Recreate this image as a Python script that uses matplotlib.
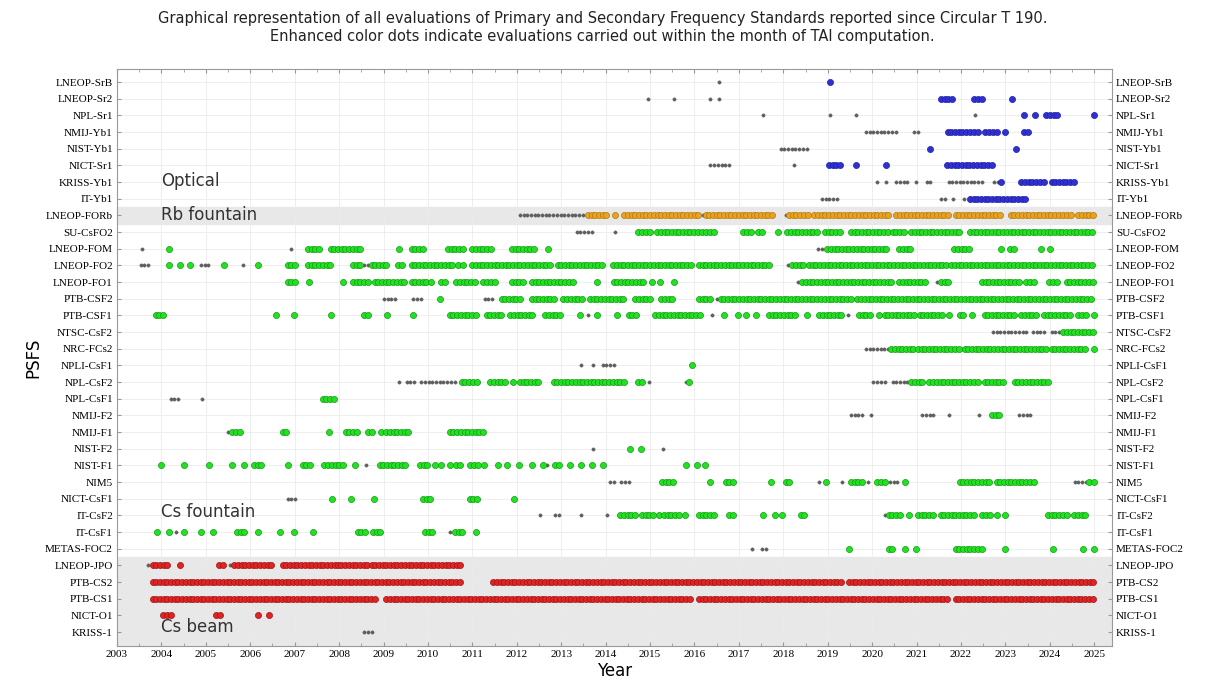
import matplotlib
matplotlib.use("Agg")
import matplotlib.pyplot as plt
from matplotlib.ticker import MultipleLocator
import numpy as np

# runs of monthly evaluations: (start, end) in decimal year, a single value is one month
optical_labels = ["LNEOP-SrB", "LNEOP-Sr2", "NPL-Sr1", "NMIJ-Yb1", "NIST-Yb1",
                  "NICT-Sr1", "KRISS-Yb1", "IT-Yb1"]
optical_enh = [
    [2019.05],
    [(2021.55, 2021.8), (2022.3, 2022.47), 2023.15],
    [(2023.42, 2023.5), 2023.67, (2023.92, 2024.17), 2025.0],
    [(2021.7, 2022.2), (2022.3, 2022.4), (2022.55, 2022.85), 2023.0, (2023.42, 2023.55)],
    [2021.31, 2023.25],
    [(2019.03, 2019.3), 2019.64, 2020.31, (2021.69, 2022.77)],
    [2022.91, (2023.36, 2023.89), (2024.04, 2024.55)],
    [(2022.2, 2023.53)],
]
optical_gray = [
    [2016.55],
    [2014.96, 2015.55, 2016.36, 2016.55],
    [2017.55, 2019.06, 2019.64, 2022.32],
    [(2019.86, 2020.6), (2020.95, 2021.08)],
    [(2017.94, 2018.6)],
    [(2016.36, 2016.82), 2018.23],
    [2020.12, 2020.31, (2020.54, 2020.84), 2020.99, (2021.23, 2021.33),
     (2021.72, 2022.52), (2022.74, 2022.83)],
    [(2018.87, 2019.26), (2021.55, 2021.67), 2021.82, 2022.07],
]

rb_labels = ["LNEOP-FORb"]
rb_enh = [
    [(2013.6, 2014.05), 2014.2, (2014.42, 2016.16), (2016.25, 2017.75), (2018.13, 2018.58),
     (2018.7, 2020.43), (2020.54, 2021.74), (2021.88, 2022.93), (2023.12, 2024.21),
     (2024.3, 2024.53), (2024.64, 2025.0)],
]
rb_gray = [
    [(2012.07, 2013.54), 2016.2, 2018.05],
]

csf_labels = ["SU-CsFO2", "LNEOP-FOM", "LNEOP-FO2", "LNEOP-FO1", "PTB-CSF2", "PTB-CSF1",
              "NTSC-CsF2", "NRC-FCs2", "NPLI-CsF1", "NPL-CsF2", "NPL-CsF1", "NMIJ-F2",
              "NMIJ-F1", "NIST-F2", "NIST-F1", "NIM5", "NICT-CsF1", "IT-CsF2", "IT-CsF1",
              "METAS-FOC2"]
csf_enh = [
    # SU-CsFO2
    [(2014.74, 2015.0), (2015.16, 2016.16), (2016.27, 2016.51), (2017.1, 2017.34),
     (2017.44, 2017.57), 2017.87, (2018.09, 2018.77), (2018.94, 2019.35), (2019.52, 2020.37),
     (2020.46, 2020.79), (2020.88, 2022.04), (2022.2, 2025.0)],
    # LNEOP-FOM
    [2004.17, (2007.3, 2007.56), (2007.81, 2008.54), 2009.35, (2009.63, 2009.89),
     (2010.45, 2010.85), (2011.0, 2011.45), (2011.89, 2012.41), 2012.7, (2018.99, 2020.35),
     (2020.61, 2020.94), (2021.85, 2022.2), 2022.91, (2023.1, 2023.25), 2023.81, 2024.0],
    # LNEOP-FO2
    [2004.17, 2004.41, 2004.65, 2005.41, 2006.17, (2006.84, 2007.03), (2007.3, 2007.81),
     (2008.31, 2008.5), (2008.73, 2009.14), (2009.33, 2009.48), (2009.63, 2010.61), 2010.67,
     2010.8, (2011.0, 2012.83), (2012.92, 2013.99), (2014.17, 2015.99), (2016.1, 2016.85),
     (2016.93, 2017.76), (2018.2, 2018.5), (2018.58, 2021.68), (2021.78, 2025.0)],
    # LNEOP-FO1
    [(2006.84, 2007.03), 2007.33, 2008.09, (2008.31, 2008.65), (2008.8, 2009.48),
     (2009.63, 2010.0), 2010.08, (2010.3, 2010.45), (2010.64, 2011.06), (2011.25, 2011.55),
     (2011.89, 2012.22), (2012.34, 2013.31), 2013.8, (2014.18, 2014.9), 2015.05, 2015.23,
     2015.55, (2018.43, 2020.5), (2020.61, 2021.2), (2021.55, 2021.78), (2022.47, 2023.36),
     (2023.47, 2023.7), (2023.99, 2024.19), (2024.38, 2025.0)],
    # PTB-CSF2
    [2010.27, (2011.66, 2012.15), (2012.34, 2012.86), (2013.05, 2013.5), (2013.65, 2014.41),
     (2014.67, 2015.08), (2015.25, 2015.57), (2016.1, 2016.36), (2016.59, 2018.7),
     (2018.77, 2019.6), (2019.67, 2025.0)],
    # PTB-CSF1
    [(2003.87, 2004.1), 2006.58, 2006.99, 2007.82, (2008.57, 2008.69), 2009.08, 2009.67,
     (2010.49, 2011.13), (2011.32, 2011.7), (2011.85, 2012.41), (2012.64, 2013.05), 2013.43,
     2013.8, 2014.26, (2014.52, 2014.74), (2015.12, 2016.13), 2016.67, 2016.97, 2017.16,
     2017.38, (2017.68, 2018.32), 2018.54, (2018.81, 2019.33), (2019.7, 2019.99), 2020.15,
     (2020.28, 2020.95), (2021.07, 2021.63), 2021.73, (2021.97, 2022.08), 2022.25,
     (2022.53, 2023.25), (2023.36, 2023.77), (2023.87, 2024.53), (2024.64, 2024.87), 2025.0],
    # NTSC-CsF2
    [(2024.3, 2025.0)],
    # NRC-FCs2
    [(2020.43, 2020.95), (2021.03, 2021.97), (2022.08, 2023.96), (2024.04, 2024.85), 2025.0],
    # NPLI-CsF1
    [2015.95],
    # NPL-CsF2
    [(2010.76, 2011.17), (2011.4, 2011.74), 2011.92, (2012.07, 2012.56), (2012.83, 2014.48),
     (2014.74, 2014.9), 2015.87, (2020.88, 2021.18), (2021.29, 2022.42), (2022.53, 2023.02),
     (2023.21, 2024.0)],
    # NPL-CsF1
    [(2007.63, 2007.9)],
    # NMIJ-F2
    [(2022.7, 2022.87)],
    # NMIJ-F1
    [(2005.6, 2005.79), (2006.73, 2006.88), 2007.77, (2008.15, 2008.46), (2008.65, 2008.8),
     2008.94, (2009.06, 2009.63), (2010.49, 2011.25)],
    # NIST-F2
    [2014.56, 2014.8],
    # NIST-F1
    [2003.98, 2004.5, 2005.08, 2005.59, 2005.85, (2006.08, 2006.28), 2006.84,
     (2007.18, 2007.41), (2007.67, 2008.09), 2008.35, (2008.91, 2009.55), (2009.82, 2010.05),
     2010.15, 2010.3, 2010.49, (2010.64, 2010.79), (2010.95, 2011.13), 2011.27, 2011.58,
     2011.77, 2012.04, 2012.35, 2012.6, (2012.86, 2012.98), 2013.19, 2013.44, 2013.69,
     2013.95, 2015.8, 2016.05, 2016.23],
    # NIM5
    [(2015.27, 2015.55), 2016.36, (2016.7, 2016.93), 2017.72, (2018.05, 2018.17), 2018.96,
     (2019.52, 2019.82), (2020.12, 2020.31), 2020.73, (2021.97, 2022.68), (2022.8, 2023.7),
     2024.88, 2025.0],
    # NICT-CsF1
    [2007.84, 2008.26, 2008.78, (2009.89, 2010.12), (2010.94, 2011.17), 2011.94],
    # IT-CsF2
    [(2014.33, 2014.67), (2014.82, 2015.12), 2015.2, (2015.31, 2015.68), 2015.78,
     (2016.1, 2016.51), (2016.78, 2016.93), 2017.55, 2017.81, 2017.98, (2018.39, 2018.54),
     (2020.37, 2020.67), 2020.82, (2021.03, 2021.43), (2021.54, 2022.34), (2022.48, 2022.65),
     2022.81, 2022.98, (2023.96, 2024.45), (2024.55, 2024.87)],
    # IT-CsF1
    [2003.89, 2004.17, 2004.5, 2004.89, 2005.17, (2005.7, 2005.87), 2006.17, 2006.68,
     2006.99, 2007.42, (2008.42, 2008.65), (2008.76, 2008.95), (2009.93, 2010.12),
     (2010.61, 2010.79), 2011.09],
    # METAS-FOC2
    [2019.47, (2020.37, 2020.5), 2020.73, 2020.99, (2021.88, 2022.5), 2022.98, 2024.07,
     2024.75, 2025.0],
]
csf_gray = [
    [(2013.35, 2013.73), 2014.2],
    [2003.57, 2006.92, (2018.79, 2018.95)],
    [(2003.53, 2003.76), (2004.89, 2005.11), 2005.83, (2008.57, 2008.7), 2018.1],
    [2018.32, 2021.47],
    [(2009.01, 2009.29), (2009.67, 2009.85), (2011.28, 2011.47), 2016.5],
    [2013.6, 2016.4, 2019.45],
    [(2022.72, 2023.55), (2023.62, 2023.92), (2024.04, 2024.26)],
    [(2019.86, 2020.39), 2022.02],
    [2013.45, 2013.71, (2013.93, 2014.22)],
    [2009.35, (2009.52, 2009.7), (2009.85, 2010.64), 2014.98, 2015.8, (2020.03, 2020.35),
     (2020.46, 2020.85)],
    [(2004.21, 2004.44), 2004.91],
    [(2019.52, 2019.82), 2019.97, (2021.13, 2021.44), 2021.73, 2022.4, (2023.31, 2023.59)],
    [2005.5],
    [2013.71, 2015.29],
    [2008.6, 2012.68],
    [(2014.1, 2014.22), (2014.35, 2014.58), 2018.81, 2019.32, 2019.9, (2020.4, 2020.6),
     (2024.56, 2024.87)],
    [(2006.84, 2007.03)],
    [2012.53, (2012.86, 2012.98), 2013.45, 2014.03, 2020.3],
    [2004.33, 2010.5],
    [2017.29, (2017.53, 2017.64)],
]

beam_labels = ["LNEOP-JPO", "PTB-CS2", "PTB-CS1", "NICT-O1", "KRISS-1"]
beam_enh = [
    [(2003.8, 2004.21), 2004.41, (2005.3, 2005.45), (2005.64, 2006.54), (2006.73, 2007.9),
     (2007.97, 2008.65), (2008.73, 2010.79)],
    [(2003.8, 2010.76), (2011.47, 2019.38), (2019.48, 2025.0)],
    [(2003.8, 2008.87), (2009.06, 2015.95), (2016.1, 2021.75), (2021.88, 2025.0)],
    [(2004.04, 2004.21), (2005.23, 2005.38), 2006.17, 2006.43],
    [],
]
beam_gray = [
    [2003.7, 2005.55],
    [],
    [],
    [],
    [(2008.57, 2008.8)],
]

years = list(range(2003, 2026))
group_names = ["Optical", "Rb fountain", "Cs fountain", "Cs beam"]


def expand(runs):
    pts = []
    for r in runs:
        if isinstance(r, tuple):
            pts.extend(np.arange(r[0], r[1] + 1e-6, 1 / 12))
        else:
            pts.append(r)
    return np.array(pts)


fig = plt.figure(figsize=(12.05, 6.82), dpi=100)
ax = fig.add_axes([117 / 1205, 1 - 646 / 682, (1112 - 117) / 1205, (646 - 69) / 682])

groups = [
    (optical_labels, optical_enh, optical_gray, "#2f2fd8", "#22229a"),
    (rb_labels, rb_enh, rb_gray, "#eba21c", "#b07810"),
    (csf_labels, csf_enh, csf_gray, "#22e022", "#139a13"),
    (beam_labels, beam_enh, beam_gray, "#e02424", "#a01414"),
]

all_labels = [l for g in groups for l in g[0]]
n = len(all_labels)
ypos = {lab: n - i for i, lab in enumerate(all_labels)}

for labels, enh, gray, face, edge in groups:
    for lab, e_runs, g_runs in zip(labels, enh, gray):
        y = ypos[lab]
        gx = expand(g_runs)
        if len(gx):
            ax.plot(gx, np.full(len(gx), y), "o", ms=2.4, color="#5e5e5e", mec="#5e5e5e",
                    mew=0.3, zorder=3)
        ex = expand(e_runs)
        if len(ex):
            ax.plot(ex, np.full(len(ex), y), "o", ms=4.4, color=face, mec=edge,
                    mew=0.5, zorder=4)

# gray bands behind Rb fountain and Cs beam
ax.axhspan(ypos["LNEOP-FORb"] - 0.5, ypos["LNEOP-FORb"] + 0.5, color="#e8e8e8", zorder=0)
ax.axhspan(0, ypos["LNEOP-JPO"] + 0.5, color="#e8e8e8", zorder=0)

ax.set_xlim(2003, 2025.4)
ax.set_ylim(0.17, n + 0.78)

ax.set_xticks(years)
ax.set_xticklabels([str(y) for y in years], family="Liberation Serif", fontsize=8)
ax.xaxis.set_minor_locator(MultipleLocator(0.5))
ax.set_yticks([ypos[l] for l in all_labels])
ax.set_yticklabels(all_labels, family="Liberation Serif", fontsize=8)
ax.tick_params(axis="both", which="both", direction="in", color="#999999",
               top=True, right=True, labelright=True, length=3, pad=3)
ax.tick_params(axis="x", which="minor", length=2)

ax.grid(True, which="major", color="#ebebeb", lw=0.6, zorder=1)
ax.set_axisbelow(True)
for s in ax.spines.values():
    s.set_color("#999999")
    s.set_linewidth(0.8)

txt = dict(fontsize=12, color="#333333", ha="left", va="center", zorder=5)
ax.text(2004.0, ypos["KRISS-Yb1"] + 0.05, group_names[0], **txt)
ax.text(2004.0, ypos["LNEOP-FORb"], group_names[1], **txt)
ax.text(2004.0, ypos["NICT-CsF1"] - 0.8, group_names[2], **txt)
ax.text(2004.0, ypos["KRISS-1"] + 0.3, group_names[3], **txt)

ax.set_xlabel("Year", fontsize=12, labelpad=2)
ax.set_ylabel("PSFS", fontsize=12, labelpad=2)

fig.text(0.5, 1 - 18 / 682, "Graphical representation of all evaluations of Primary and "
         "Secondary Frequency Standards reported since Circular T 190.",
         ha="center", va="center", fontsize=10.5, color="#222222")
fig.text(0.5, 1 - 36 / 682, "Enhanced color dots indicate evaluations carried out within "
         "the month of TAI computation.",
         ha="center", va="center", fontsize=10.5, color="#222222")

fig.savefig("out.png", dpi=100)
